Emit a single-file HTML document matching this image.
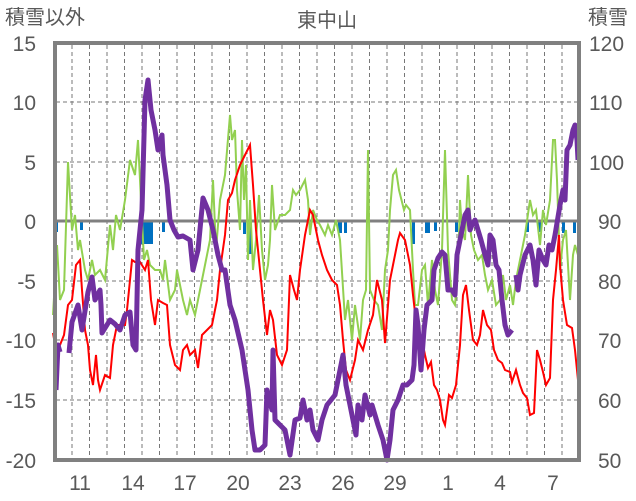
<!DOCTYPE html>
<html><head><meta charset="utf-8"><style>
body{margin:0;background:#fff}
svg{display:block}
text{font-family:"Liberation Sans","Noto Sans CJK JP",sans-serif;fill:#595959}
</style></head><body>
<svg width="636" height="501" viewBox="0 0 636 501">
<g stroke="#777" stroke-width="1" stroke-dasharray="4,3">
<line x1="56" x2="579" y1="102" y2="102"/><line x1="56" x2="579" y1="162" y2="162"/>
<line x1="56" x2="579" y1="281" y2="281"/><line x1="56" x2="579" y1="340" y2="340"/><line x1="56" x2="579" y1="400" y2="400"/>
<line x1="72" x2="72" y1="45" y2="459"/><line x1="89.5" x2="89.5" y1="45" y2="459"/><line x1="107" x2="107" y1="45" y2="459"/><line x1="124.5" x2="124.5" y1="45" y2="459"/><line x1="142" x2="142" y1="45" y2="459"/><line x1="159.5" x2="159.5" y1="45" y2="459"/><line x1="177" x2="177" y1="45" y2="459"/><line x1="194.5" x2="194.5" y1="45" y2="459"/><line x1="212" x2="212" y1="45" y2="459"/><line x1="229.5" x2="229.5" y1="45" y2="459"/><line x1="247" x2="247" y1="45" y2="459"/><line x1="264.5" x2="264.5" y1="45" y2="459"/><line x1="282" x2="282" y1="45" y2="459"/><line x1="299.5" x2="299.5" y1="45" y2="459"/><line x1="317" x2="317" y1="45" y2="459"/><line x1="334.5" x2="334.5" y1="45" y2="459"/><line x1="352" x2="352" y1="45" y2="459"/><line x1="369.5" x2="369.5" y1="45" y2="459"/><line x1="387" x2="387" y1="45" y2="459"/><line x1="404.5" x2="404.5" y1="45" y2="459"/><line x1="422" x2="422" y1="45" y2="459"/><line x1="439.5" x2="439.5" y1="45" y2="459"/><line x1="457" x2="457" y1="45" y2="459"/><line x1="474.5" x2="474.5" y1="45" y2="459"/><line x1="492" x2="492" y1="45" y2="459"/><line x1="509.5" x2="509.5" y1="45" y2="459"/><line x1="527" x2="527" y1="45" y2="459"/><line x1="544.5" x2="544.5" y1="45" y2="459"/><line x1="562" x2="562" y1="45" y2="459"/>
</g>
<g fill="#0070c0">
<rect x="55" y="222" width="3" height="10"/><rect x="80" y="222" width="3" height="8"/><rect x="141" y="222" width="12" height="22"/><rect x="162" y="222" width="3" height="10"/>
<rect x="243" y="222" width="3" height="12"/><rect x="249" y="222" width="3" height="32"/><rect x="338" y="222" width="4" height="11"/><rect x="344" y="222" width="3" height="11"/>
<rect x="412" y="222" width="3" height="22"/><rect x="425" y="222" width="5" height="11"/><rect x="434" y="222" width="3" height="9"/><rect x="455" y="222" width="3" height="10"/><rect x="526" y="222" width="3" height="10"/><rect x="538" y="222" width="3" height="10"/><rect x="562" y="222" width="3" height="11"/><rect x="573" y="222" width="3" height="11"/>
</g>
<line x1="56" x2="579" y1="221" y2="221" stroke="#808080" stroke-width="3"/>
<polyline fill="none" stroke="#92d050" stroke-width="2" points="53,315 57,245 60,300 64,290 68,162 72,230 75,215 78,250 80,240 85,270 88,280 92,260 95,275 100,270 105,280 110,225 113,250 116,215 120,230 125,200 130,160 135,175 138,140 141,200 144,260 147,250 150,265 155,270 160,270 163,280 165,260 170,300 175,290 177,270 183,300 187,315 190,300 195,315 198,300 205,265 210,240 213,180 216,250 220,200 225,175 230,115 232,140 235,130 237,190 240,230 242,140 244,200 246,165 248,260 250,200 253,270 256,240 259,195 262,250 265,280 268,265 270,240 272,185 275,230 280,215 285,215 290,210 293,190 296,195 300,190 305,180 308,200 310,235 313,210 317,220 320,225 325,235 328,225 332,235 336,220 340,240 345,320 348,300 352,340 355,305 360,340 363,300 366,290 368,150 370,290 374,300 378,305 382,330 385,270 388,250 390,210 393,175 396,170 399,190 404,210 406,205 410,210 413,270 415,305 418,305 422,270 425,265 428,305 432,260 435,290 438,305 442,250 445,150 448,250 452,300 455,305 458,270 460,200 462,230 465,240 468,175 471,235 474,250 478,260 482,255 485,275 488,290 492,280 496,305 500,300 503,275 506,300 510,285 513,305 516,280 520,260 525,235 530,200 533,215 536,210 540,245 543,210 546,225 550,200 553,140 555,140 557,180 560,270 563,240 566,230 570,300 573,255 575,245 578,255"/>
<polyline fill="none" stroke="#ff0000" stroke-width="2" points="53,333 56,350 60,345 64,335 68,305 72,300 76,265 80,260 82,290 85,330 88,345 90,370 93,385 96,355 98,380 100,390 105,375 110,378 113,345 117,325 120,325 125,325 127,310 132,260 135,262 140,262 145,270 148,260 151,300 155,325 158,300 163,303 167,305 170,345 175,365 180,370 183,350 187,345 190,355 195,350 198,368 202,335 207,330 212,325 217,300 220,270 225,235 228,200 232,193 235,180 240,165 245,155 250,145 253,185 256,230 260,270 263,300 267,335 270,310 273,320 277,355 282,365 287,350 290,275 294,290 297,300 300,270 305,235 310,210 313,215 318,240 322,255 327,270 332,280 337,285 340,305 343,340 346,370 350,380 355,360 358,340 363,350 368,330 373,315 377,280 382,300 385,343 390,280 393,265 398,240 400,233 405,240 410,265 413,295 417,330 422,340 425,355 428,368 431,362 434,385 437,390 440,400 443,420 445,425 449,395 452,398 456,385 460,345 463,295 466,285 469,310 473,340 477,345 480,335 483,310 487,325 491,330 494,350 498,360 502,363 505,370 510,372 512,382 516,370 520,385 523,393 527,398 530,415 534,413 537,350 540,360 543,372 546,385 550,378 553,300 556,270 559,235 560,265 563,300 567,325 572,328 575,350 578,380"/>
<polyline fill="none" stroke="#7030a0" stroke-width="5" stroke-linejoin="round" points="56,390 58,345 60,352"/>
<polyline fill="none" stroke="#7030a0" stroke-width="5" stroke-linejoin="round" points="69,353 72,322 78,305 82,330 88,292 92,277 95,300 100,290 101,305 102,333 110,320 115,324 120,330 125,315 130,312 133,345 136,350 138,250 142,210 145,100 148,80 151,110 155,130 158,150 162,135 163,155 167,185 170,220 174,230 178,237 183,236 190,240 193,270 198,250 203,198 208,210 213,230 218,255 222,270 225,270 230,305 235,320 242,350 248,390 252,430 255,450 260,450 265,445 267,390 272,410 273,350 275,420 280,425 285,430 290,455 295,420 300,418 303,400 307,420 310,410 313,430 318,440 322,420 327,405 335,395 340,370 343,355 346,385 350,405 356,435 358,405 362,420 365,395 370,415 372,405 378,425 383,440 387,460 390,440 393,410 398,400 403,385 407,385 412,380 414,365 416,310 418,325 421,370 424,330 427,305 432,300 434,270 438,258 442,252 445,255 448,290 452,290 455,295 457,255 461,235 465,215 468,210 470,230 472,225 475,220 478,230 481,240 485,255 488,265 490,235 493,240 496,265 499,270 502,300 505,325 508,335 512,330"/>
<polyline fill="none" stroke="#7030a0" stroke-width="5" stroke-linejoin="round" points="516,275 518,290 520,275 525,255 530,245 533,260 536,285 539,250 543,260 546,265 549,245 552,250 555,235 560,205 563,190 565,200 567,150 570,145 573,130 575,125 577,140 578,160"/>
<rect x="55" y="43" width="524" height="417" fill="none" stroke="#808080" stroke-width="4"/>
<text x="327" y="27" font-size="20" text-anchor="middle">東中山</text>
<text x="5" y="24" font-size="20">積雪以外</text>
<text x="588" y="24" font-size="20">積雪</text>
<g font-size="21" text-anchor="end">
<text x="36" y="51">15</text><text x="36" y="110">10</text><text x="36" y="170">5</text><text x="36" y="229">0</text><text x="36" y="289">-5</text><text x="36" y="348">-10</text><text x="36" y="408">-15</text><text x="36" y="468">-20</text>
</g>
<g font-size="21" text-anchor="start">
<text x="589" y="51">120</text><text x="589" y="110">110</text><text x="589" y="170">100</text><text x="598" y="229">90</text><text x="598" y="289">80</text><text x="598" y="348">70</text><text x="598" y="408">60</text><text x="598" y="468">50</text>
</g>
<g font-size="21" text-anchor="middle">
<text x="80" y="490">11</text><text x="133" y="490">14</text><text x="185" y="490">17</text><text x="238" y="490">20</text><text x="290" y="490">23</text><text x="343" y="490">26</text><text x="395" y="490">29</text><text x="448" y="490">1</text><text x="500" y="490">4</text><text x="553" y="490">7</text>
</g>
</svg>
</body></html>
